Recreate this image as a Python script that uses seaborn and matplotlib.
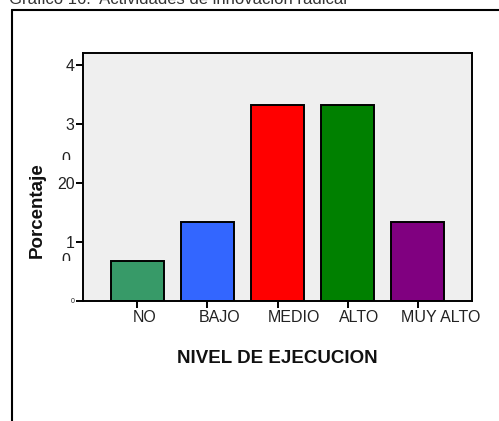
import matplotlib
matplotlib.use("Agg")
import matplotlib.pyplot as plt
import matplotlib.transforms as mtransforms
from matplotlib.lines import Line2D
import seaborn as sns
import pandas as pd

# Data
niveles = ["NO", "BAJO", "MEDIO", "ALTO", "MUY ALTO"]
porcentaje = [6.7, 13.3, 33.3, 33.3, 13.3]
colores = ["#379a68", "#3366ff", "#ff0000", "#008000", "#800080"]
ytick_vals = [0, 10, 20, 30, 40]
ytick_text = ["0", "1", "20", "3", "4"]

sns.set_theme(style="white")
plt.rcParams["font.family"] = ["Liberation Sans", "DejaVu Sans"]

df = pd.DataFrame({"nivel": niveles, "pct": porcentaje})

W, H = 499, 421
fig = plt.figure(figsize=(W / 100, H / 100), dpi=100)
fig.patch.set_facecolor("white")
ax = fig.add_axes([83 / W, 1 - 300.7 / H, 389 / W, 247.7 / H])
ax.set_facecolor("#efefef")

sns.barplot(data=df, x="nivel", y="pct", hue="nivel", palette=colores,
            order=niveles, hue_order=niveles, legend=False,
            edgecolor="black", linewidth=1.4, width=0.76, saturation=1, ax=ax)

ax.set_xlim(-0.775, 4.775)
ax.set_ylim(0, 42.1)

for side in ["left", "right", "top", "bottom"]:
    ax.spines[side].set_visible(True)
    ax.spines[side].set_color("black")
    ax.spines[side].set_linewidth(1.4)

ax.set_yticks(ytick_vals)
ax.set_yticklabels(ytick_text, fontsize=11.5, color="#222222")
ax.get_yticklabels()[0].set_fontsize(5)
ax.tick_params(axis="y", direction="out", length=5, width=1.4, color="black", pad=1)
ax.tick_params(axis="x", direction="out", length=5, width=1.4, color="black", pad=2,
               labelsize=11.5, labelcolor="#222222")
ax.tick_params(left=True, bottom=True)

# shift the category labels to the right
shifts = [7, 12, 16, 12, 23]
for lbl, dx in zip(ax.get_xticklabels(), shifts):
    lbl.set_transform(lbl.get_transform() +
                      mtransforms.ScaledTranslation(dx / 100, 0, fig.dpi_scale_trans))

# half-hidden tick labels between the labelled ticks (only their tops show)
for y_px in [155, 256]:
    t = fig.text(66 / W, 1 - (y_px - 3) / H, "0", fontsize=11.5, color="#222222",
                 ha="center", va="top")
    clip = mtransforms.Bbox.from_extents(55, H - y_px - 5, 80, H - y_px + 8)
    t.set_clip_box(clip)
    t.set_clip_on(True)

ax.set_xlabel("NIVEL DE EJECUCION", fontsize=13.5, fontweight="bold",
              color="#111111", labelpad=18)
ax.set_ylabel("Porcentaje", fontsize=13.5, fontweight="bold", color="#111111")
ax.yaxis.set_label_coords(-37 / 389, (300.7 - 210) / 247.7)

# outer frame and heading
fig.add_artist(Line2D([11.5 / W, 11.5 / W], [0, 1 - 10 / H],
                      transform=fig.transFigure, color="black", lw=1.5))
fig.add_artist(Line2D([11.5 / W, 1], [1 - 10 / H, 1 - 10 / H],
                      transform=fig.transFigure, color="black", lw=1.5))
fig.text(9 / W, 1 - 4 / H, "Gráfico 16.  Actividades de innovación radical",
         fontsize=12, color="#333333", ha="left", va="baseline")

fig.savefig("out.png", dpi=100)
